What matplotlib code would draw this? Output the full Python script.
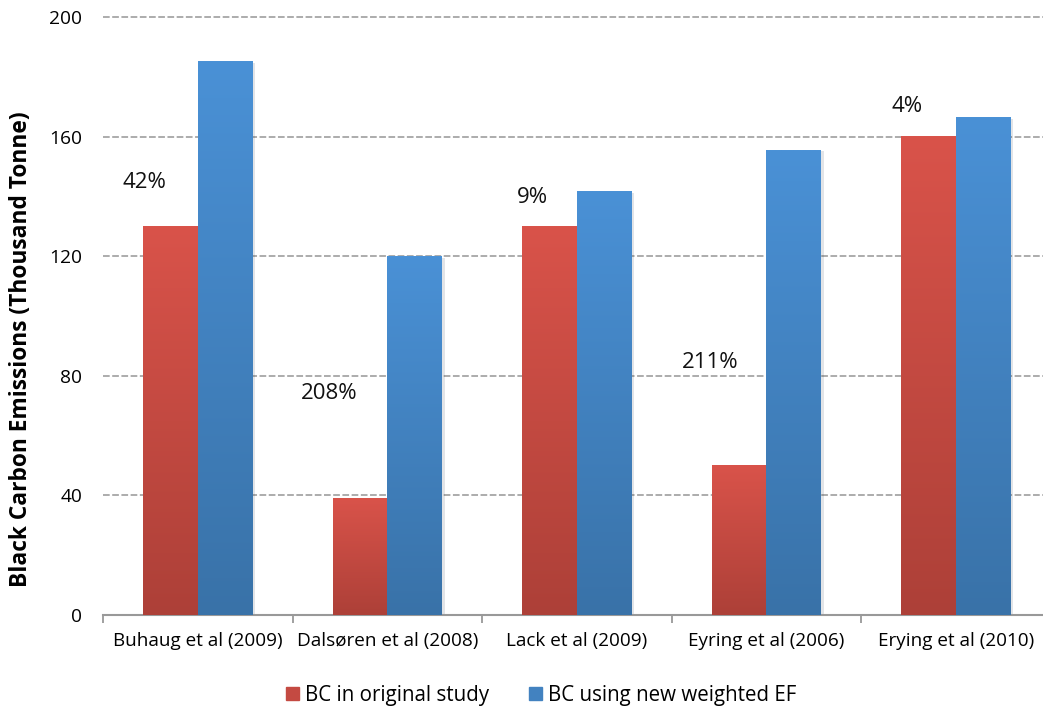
import numpy as np
import matplotlib
matplotlib.use("Agg")
import matplotlib.pyplot as plt
from matplotlib.colors import LinearSegmentedColormap
from matplotlib.patches import Patch
import matplotlib.patheffects as pe

plt.rcParams['font.family'] = ['Open Sans', 'DejaVu Sans']

studies = ["Buhaug et al (2009)", "Dalsøren et al (2008)", "Lack et al (2009)",
           "Eyring et al (2006)", "Erying et al (2010)"]
bc_original = [130, 39, 130, 50, 160]
bc_new_ef = [185, 120, 141.5, 155.5, 166.5]
# where the percentage increase labels sit (x offset from category, y in tonnes)
label_dx = [-0.284, -0.307, -0.236, -0.297, -0.257]
label_y = [144.8, 74.2, 139.5, 84.3, 170.0]

red_grad = LinearSegmentedColormap.from_list("red_grad", ["#ad4038", "#d9534a"])
blue_grad = LinearSegmentedColormap.from_list("blue_grad", ["#3972a8", "#4a91d6"])

fig = plt.figure(figsize=(10.43, 7.08), dpi=100)
ax = fig.add_axes([0.0988, 0.1314, 0.9084, 0.8446])

x = np.arange(len(studies))
w = 0.2876
shadow = [pe.SimplePatchShadow(offset=(2, -1), alpha=0.12), pe.Normal()]
bars_red = ax.bar(x - w / 2, bc_original, w, color="#c44a42", zorder=2)
bars_blue = ax.bar(x + w / 2, bc_new_ef, w, color="#4282c0", zorder=2)

# vertical gradient inside every bar
grad = np.linspace(0, 1, 256).reshape(-1, 1)
for bars, cmap in ((bars_red, red_grad), (bars_blue, blue_grad)):
    for b in bars:
        b.set_path_effects(shadow)
        x0, y0 = b.get_x(), b.get_y()
        ax.imshow(grad, extent=[x0, x0 + b.get_width(), y0, y0 + b.get_height()],
                  origin="lower", aspect="auto", cmap=cmap, zorder=3)

for i in range(len(studies)):
    pct = round((bc_new_ef[i] / bc_original[i] - 1) * 100)
    ax.text(x[i] + label_dx[i], label_y[i], f"{pct}%", ha="center", va="center",
            fontsize=16, color="#111111", zorder=4)

ax.set_xlim(-0.5, len(studies) - 0.5)
ax.set_ylim(0, 200)
ax.set_yticks([0, 40, 80, 120, 160, 200])
ax.yaxis.grid(True, color="#a6a6a6", linestyle=(0, (3.7, 1.4)), linewidth=1.3, zorder=0)
ax.set_axisbelow(True)
for g in ax.get_ygridlines():
    g.set_clip_on(False)

ax.set_xticks(x)
ax.set_xticklabels(studies, fontsize=13.6)
ax.set_xticks(np.arange(len(studies) + 1) - 0.5, minor=True)
ax.tick_params(axis="x", which="major", length=0, pad=12)
ax.tick_params(axis="x", which="minor", length=6, width=1.3, color="#999999")
ax.tick_params(axis="y", length=0, labelsize=13.8, pad=15)

for side in ("top", "right", "left"):
    ax.spines[side].set_visible(False)
ax.spines["bottom"].set_color("#999999")
ax.spines["bottom"].set_linewidth(1.5)

ax.set_ylabel("Black Carbon Emissions (Thousand Tonne)", fontsize=16.4,
              fontweight="bold")
ax.yaxis.set_label_coords(-0.074, 0.445)

handles = [Patch(color="#c44a42", label="BC in original study"),
           Patch(color="#4282c0", label="BC using new weighted EF")]
fig.legend(handles=handles, loc="center", bbox_to_anchor=(0.519, 0.018),
           ncol=2, frameon=False, fontsize=14.8, handlelength=0.62, handleheight=0.62,
           handletextpad=0.3, columnspacing=1.95)

fig.savefig("out.png", dpi=100)
